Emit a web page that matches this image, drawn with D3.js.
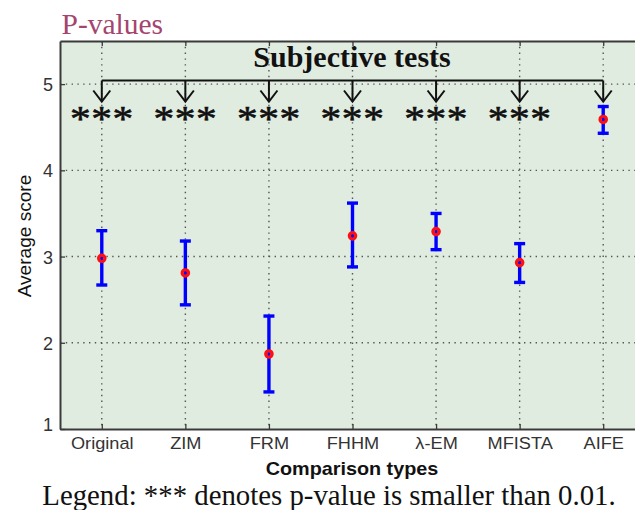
<!DOCTYPE html>
<html><head><meta charset="utf-8">
<script src="https://cdn.jsdelivr.net/npm/d3@7"></script>
<style>body{margin:0;background:#fff;overflow:hidden}</style></head>
<body><svg id="chart" width="635" height="510"></svg>
<script>
// ---- data ----
const categories = ["Original", "ZIM", "FRM", "FHHM", "\u03BB-EM", "MFISTA", "AIFE"];
const means = [2.98, 2.81, 1.87, 3.24, 3.29, 2.93, 4.59];
const upper = [3.30, 3.18, 2.31, 3.62, 3.50, 3.15, 4.74];
const lower = [2.67, 2.44, 1.43, 2.88, 3.08, 2.70, 4.43];
const significance = ["***", "***", "***", "***", "***", "***", ""];
const yTicks = [1, 2, 3, 4, 5];
const titleText = "P-values";
const bracketText = "Subjective tests";
const legendText = "Legend: *** denotes p-value is smaller than 0.01.";
const xLabel = "Comparison types";
const yLabel = "Average score";

// ---- layout ----
const svg = d3.select("#chart");
const pLeft = 60, pRight = 645, pTop = 41, pBottom = 429;
const idx = d3.range(1, categories.length + 1);
const x = d3.scaleLinear().domain([0.5, 7.5]).range([pLeft, pRight]);
const y = d3.scaleLinear().domain([1, 5.5]).range([pBottom, pTop]);
const axisColor = "#3a3a3a";
const sans = "'Liberation Sans', Arial, sans-serif";
const serif = "'Liberation Serif', 'Times New Roman', serif";

// background
svg.append("rect").attr("x", pLeft).attr("y", pTop)
  .attr("width", pRight - pLeft).attr("height", pBottom - pTop)
  .attr("fill", "#e1ece1");

// grid
const grid = svg.append("g").attr("stroke", "#555").attr("stroke-width", 1.4)
  .attr("stroke-dasharray", "1.4,4.4");
grid.selectAll("line.v").data(idx).join("line").attr("class", "v")
  .attr("x1", d => x(d)).attr("x2", d => x(d))
  .attr("y1", pTop).attr("y2", pBottom);
grid.selectAll("line.h").data(yTicks.filter(t => t > 1)).join("line").attr("class", "h")
  .attr("x1", pLeft).attr("x2", pRight)
  .attr("y1", d => y(d)).attr("y2", d => y(d));

// axes
const xAxis = svg.append("g").attr("transform", `translate(0,${pBottom})`)
  .call(d3.axisBottom(x).tickValues(idx).tickFormat(d => categories[d - 1])
    .tickSizeInner(-5).tickSizeOuter(0).tickPadding(0));
const xTop = svg.append("g").attr("transform", `translate(0,${pTop})`)
  .call(d3.axisTop(x).tickValues(idx).tickFormat("")
    .tickSizeInner(-5).tickSizeOuter(0));
const yAxis = svg.append("g").attr("transform", `translate(${pLeft},0)`)
  .call(d3.axisLeft(y).tickValues(yTicks).tickFormat(d3.format("d"))
    .tickSizeInner(-5).tickSizeOuter(0).tickPadding(0));
[xAxis, xTop, yAxis].forEach(g => {
  g.select(".domain").attr("stroke", axisColor).attr("stroke-width", 2);
  g.selectAll(".tick line").attr("stroke", axisColor).attr("stroke-width", 1.3);
});
xAxis.selectAll(".tick text")
  .attr("y", 20).attr("dy", null)
  .attr("transform", "scale(1.07,1)")
  .attr("font-family", sans).attr("font-size", 17).attr("fill", "#333");
yAxis.selectAll(".tick text")
  .attr("x", -7).attr("dy", "0.36em")
  .attr("font-family", sans).attr("font-size", 18).attr("fill", "#333");
yAxis.selectAll(".tick").filter(d => d === 1).select("text").attr("dy", "0.1em");

// axis labels
svg.append("text").attr("transform", `translate(352,475) scale(1.1,1)`)
  .attr("text-anchor", "middle").attr("font-family", sans)
  .attr("font-weight", "bold").attr("font-size", 18).attr("fill", "#111")
  .text(xLabel);
svg.append("text").attr("transform", `translate(31,236) rotate(-90) scale(1.06,1)`)
  .attr("text-anchor", "middle").attr("font-family", sans)
  .attr("font-size", 18).attr("fill", "#111")
  .text(yLabel);

// error bars
const eb = svg.append("g").selectAll("g").data(idx).join("g");
eb.append("line")
  .attr("x1", d => x(d)).attr("x2", d => x(d))
  .attr("y1", d => y(upper[d - 1])).attr("y2", d => y(lower[d - 1]))
  .attr("stroke", "#0000ff").attr("stroke-width", 3.4);
eb.append("line")
  .attr("x1", d => x(d) - 5.5).attr("x2", d => x(d) + 5.5)
  .attr("y1", d => y(upper[d - 1])).attr("y2", d => y(upper[d - 1]))
  .attr("stroke", "#0000ff").attr("stroke-width", 3.4);
eb.append("line")
  .attr("x1", d => x(d) - 5.5).attr("x2", d => x(d) + 5.5)
  .attr("y1", d => y(lower[d - 1])).attr("y2", d => y(lower[d - 1]))
  .attr("stroke", "#0000ff").attr("stroke-width", 3.4);
eb.append("circle")
  .attr("cx", d => x(d)).attr("cy", d => y(means[d - 1]))
  .attr("r", 3.2).attr("fill", "none")
  .attr("stroke", "#ff1010").attr("stroke-width", 3.2);

// bracket and arrows
const bracketY = 80.5, tipY = 101.5;
const br = svg.append("g").attr("stroke", "#111").attr("stroke-width", 2).attr("fill", "none");
br.append("line").attr("x1", x(1)).attr("x2", x(7)).attr("y1", bracketY).attr("y2", bracketY);
br.selectAll("line.arrow").data(idx).join("line").attr("class", "arrow")
  .attr("x1", d => x(d)).attr("x2", d => x(d))
  .attr("y1", bracketY).attr("y2", tipY);
br.selectAll("path").data(idx).join("path")
  .attr("d", d => `M${x(d) - 8.5},${tipY - 11}L${x(d)},${tipY}L${x(d) + 8.5},${tipY - 11}`);

// significance asterisks
svg.append("g").selectAll("text").data(idx).join("text")
  .attr("transform", d => `translate(${x(d)},131) scale(1.15,1)`)
  .attr("text-anchor", "middle").attr("font-family", serif)
  .attr("font-size", 36).attr("letter-spacing", 0.5).attr("fill", "#111")
  .attr("stroke", "#111").attr("stroke-width", 0.6)
  .text(d => significance[d - 1]);

// texts
svg.append("text").attr("x", 352).attr("y", 66.5)
  .attr("text-anchor", "middle").attr("font-family", serif)
  .attr("font-weight", "bold").attr("font-size", 30).attr("fill", "#111")
  .text(bracketText);
svg.append("text").attr("x", 61.5).attr("y", 34)
  .attr("font-family", serif).attr("font-size", 29.5).attr("fill", "#a3456f")
  .text(titleText);
svg.append("text").attr("x", 329).attr("y", 505)
  .attr("text-anchor", "middle").attr("font-family", serif)
  .attr("font-size", 28.8).attr("fill", "#111")
  .text(legendText);
</script></body></html>
